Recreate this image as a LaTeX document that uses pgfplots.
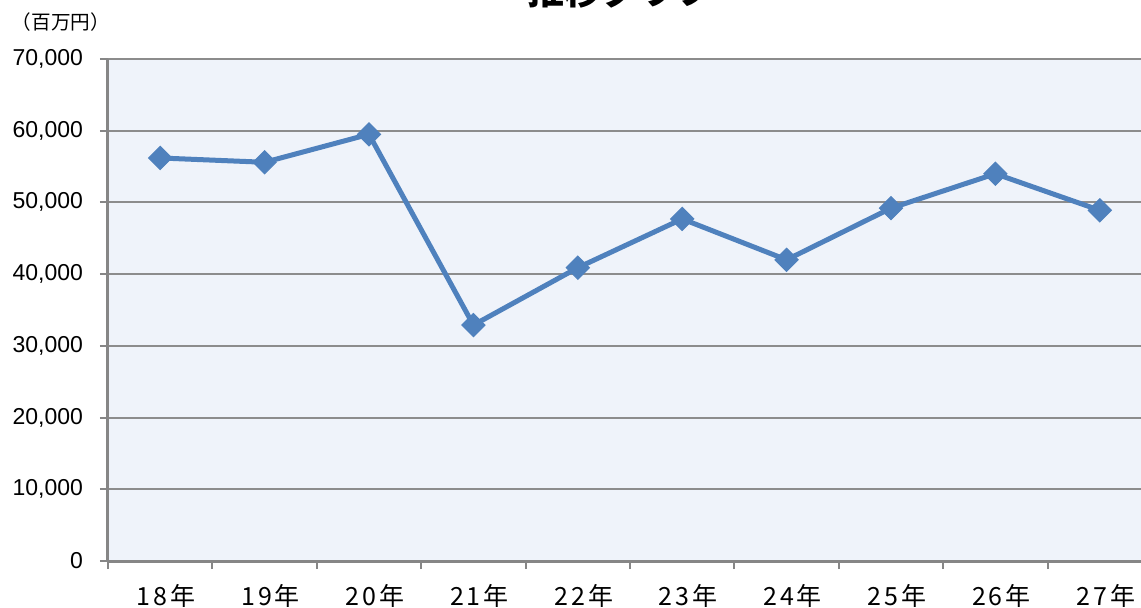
\documentclass[border=0pt]{standalone}
\usepackage{pgfplots}
\pgfplotsset{compat=1.18}
\usepackage{fontspec}
\setmainfont{Liberation Sans}
\newfontfamily\jp{Noto Sans CJK JP}
\newfontfamily\jpx[LetterSpace=12]{Noto Sans CJK JP}
\definecolor{linec}{HTML}{4F81BD}
\definecolor{bgc}{HTML}{EFF3FA}
\definecolor{gridc}{HTML}{8C8C8C}
\definecolor{axc}{HTML}{868686}
\begin{document}
\begin{tikzpicture}[x=0.5pt,y=0.5pt]
\begin{axis}[
  at={(0,0)}, anchor=south west,
  scale only axis, width=522pt, height=251pt,
  xmin=-0.5, xmax=9.5, ymin=0, ymax=70000,
  axis background/.style={fill=bgc},
  axis x line*=bottom, axis y line*=left,
  axis line style={axc, line width=1.5pt},
  x axis line style={-}, y axis line style={-},
  xtick={0,...,9},
  xticklabels={18年,19年,20年,21年,22年,23年,24年,25年,26年,27年},
  x tick label style={font=\jpx\fontsize{12.5}{13}\selectfont, yshift=-4pt, xshift=3pt},
  major x tick style={draw=none},
  minor xtick={-0.5,0.5,...,9.5},
  minor x tick style={axc, line width=1pt},
  minor tick length=4pt,
  tick align=outside,
  ytick={0,10000,...,70000},
  y tick label style={font=\fontsize{11.5}{12}\selectfont, xshift=-5pt},
  major y tick style={axc, line width=1pt},
  major tick length=4pt,
  scaled y ticks=false,
  yticklabel={\pgfmathprintnumber[fixed, 1000 sep={,}]{\tick}},
  /pgf/number format/assume math mode=true,
  ymajorgrids, grid style={gridc, line width=1pt},
  clip=false,
]
\addplot[linec, line width=2.5pt, mark=square*, mark size=4.1pt,
  mark options={rotate=45, fill=linec, draw=linec, line width=0.5pt}]
  coordinates {(0,56200) (1,55600) (2,59500) (3,32900) (4,40900)
               (5,47700) (6,42000) (7,49200) (8,54000) (9,48900)};
\end{axis}
\node[anchor=base, font=\jp\bfseries\fontsize{18.5}{20}\selectfont] at (512,557) {推移グラフ};
\node[anchor=center, font=\jp\fontsize{9.8}{10}\selectfont] at (-47,539) {（百万円）};
\pgfresetboundingbox
\path[use as bounding box] (-108,-46) rectangle (1033,561);
\end{tikzpicture}
\end{document}
